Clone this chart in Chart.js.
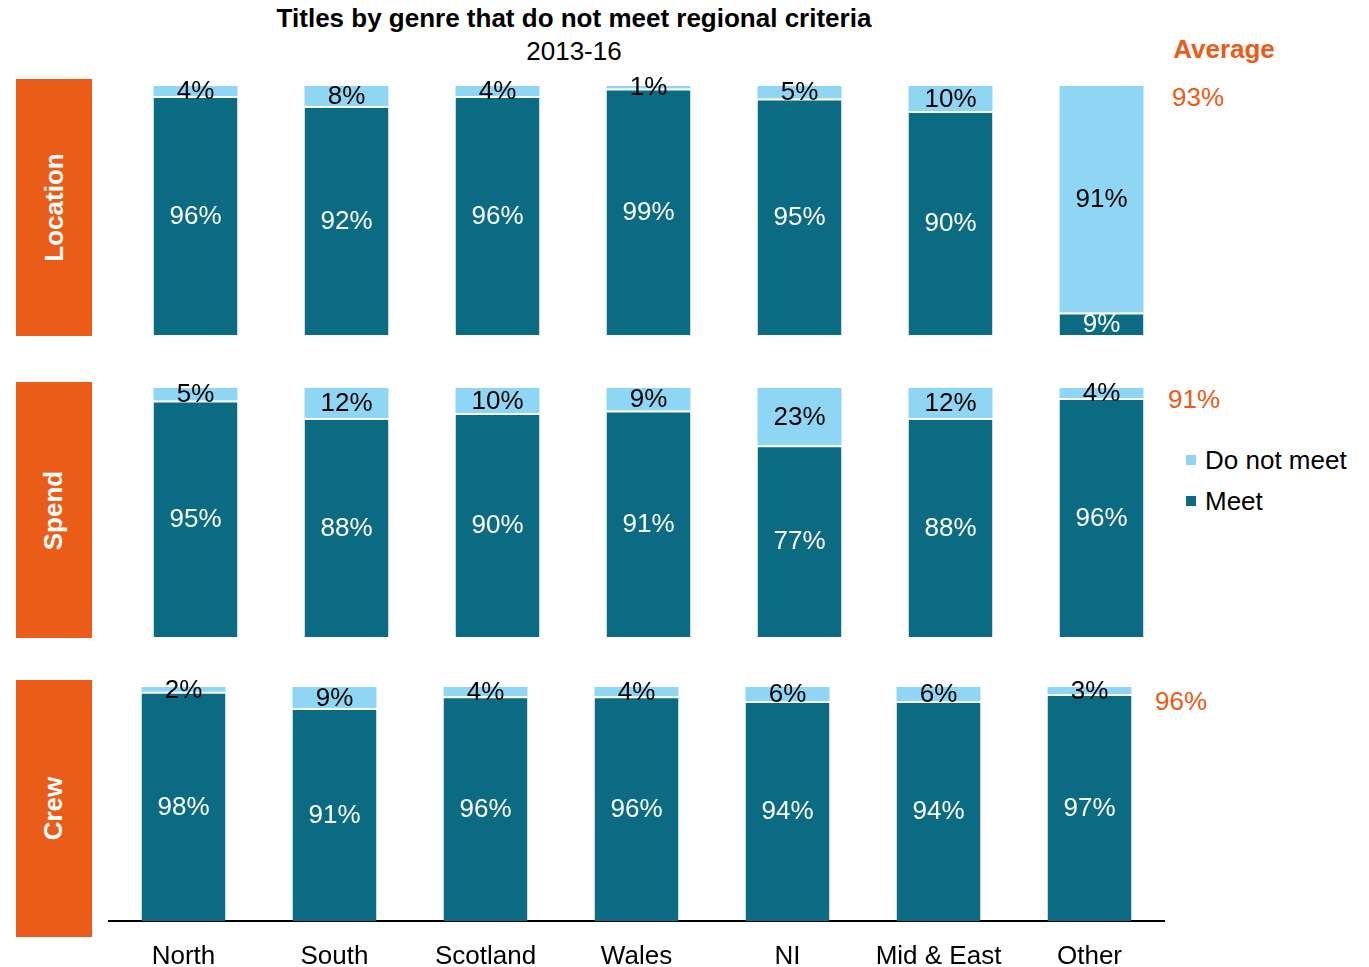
<!DOCTYPE html>
<html>
<head>
<meta charset="utf-8">
<title>Titles by genre that do not meet regional criteria</title>
<script src="https://cdn.jsdelivr.net/npm/chart.js@4"></script>
<style>
  body { margin: 0; background: #fff; font-family: "Liberation Sans", Arial, sans-serif; }
  #page { position: relative; width: 1369px; height: 967px; overflow: hidden; }
  .abs { position: absolute; }
  .title { left: 0; width: 1148px; text-align: center; color: #000; }
  .side { left: 16px; width: 76px; background: #ea5c17; display: flex; align-items: center; justify-content: center; }
  .side span { transform: rotate(-90deg); color: #fff; font-weight: bold; font-size: 26px; white-space: nowrap; }
  .avg { color: #ea5c17; font-size: 26px; transform: translate(-50%, -50%); white-space: nowrap; }
  .legend { font-size: 26px; color: #000; white-space: nowrap; }
  .legend i { display: inline-block; width: 10px; height: 10px; margin-right: 9px; vertical-align: middle; position: relative; top: -2px; }
</style>
</head>
<body>
<div id="page">
  <div class="abs title" style="top:3px;font-size:26px;font-weight:bold;">Titles by genre that do not meet regional criteria</div>
  <div class="abs title" style="top:36px;font-size:26px;">2013-16</div>

  <div class="abs side" style="top:79px;height:257px;"><span>Location</span></div>
  <div class="abs side" style="top:382px;height:256px;"><span>Spend</span></div>
  <div class="abs side" style="top:680px;height:257px;"><span>Crew</span></div>

  <div class="abs avg" style="left:1224px;top:49px;font-weight:bold;">Average</div>
  <div class="abs avg" id="avg0" style="left:1198px;top:97px;"></div>
  <div class="abs avg" id="avg1" style="left:1194px;top:399px;"></div>
  <div class="abs avg" id="avg2" style="left:1181px;top:701px;"></div>

  <div class="abs legend" style="left:1186px;top:445px;"><i style="background:#8ed6f4"></i>Do not meet</div>
  <div class="abs legend" style="left:1186px;top:486px;"><i style="background:#0b6b82"></i>Meet</div>

  <div class="abs" style="left:120px;top:66px;width:1057px;height:269px;"><canvas id="locationChart"></canvas></div>
  <div class="abs" style="left:120px;top:368px;width:1057px;height:269px;"><canvas id="spendChart"></canvas></div>
  <div class="abs" style="left:108px;top:667px;width:1057px;height:300px;"><canvas id="crewChart"></canvas></div>
</div>

<script>
const regions = ["North", "South", "Scotland", "Wales", "NI", "Mid & East", "Other"];

const locationMeet    = [96, 92, 96, 99, 95, 90, 9];
const locationNotMeet = [4, 8, 4, 1, 5, 10, 91];

const spendMeet    = [95, 88, 90, 91, 77, 88, 96];
const spendNotMeet = [5, 12, 10, 9, 23, 12, 4];

const crewMeet    = [98, 91, 96, 96, 94, 94, 97];
const crewNotMeet = [2, 9, 4, 4, 6, 6, 3];

const averages = ["93%", "91%", "96%"];

const meetColor = "#0b6b82";
const notMeetColor = "#8ed6f4";
const labelFont = '26px "Liberation Sans", Arial, sans-serif';

averages.forEach((a, i) => { document.getElementById("avg" + i).textContent = a; });

// writes the percentage in the middle of every segment
const segmentLabels = {
  id: "segmentLabels",
  afterDatasetsDraw(chart) {
    const ctx = chart.ctx;
    ctx.save();
    ctx.font = labelFont;
    ctx.textAlign = "center";
    ctx.textBaseline = "middle";
    chart.data.datasets.forEach((ds, i) => {
      ctx.fillStyle = ds.labelColor;
      chart.getDatasetMeta(i).data.forEach((bar, j) => {
        ctx.fillText(ds.data[j] + "%", bar.x, (bar.y + bar.base) / 2 + 1);
      });
    });
    ctx.restore();
  }
};

function makePanel(id, meet, notMeet, showAxis) {
  const xScale = {
    stacked: true,
    display: showAxis,
    grid: { display: false },
    border: { display: true, color: "#000000", width: 2 },
    ticks: {
      color: "#000000",
      padding: 12,
      font: { family: '"Liberation Sans", Arial, sans-serif', size: 26 }
    }
  };
  if (showAxis) {
    xScale.afterFit = (scale) => { scale.height = 46; };
  }

  return new Chart(document.getElementById(id), {
    type: "bar",
    data: {
      labels: regions,
      datasets: [
        {
          label: "Meet",
          data: meet,
          backgroundColor: meetColor,
          borderColor: "#ffffff",
          borderWidth: { top: 2, left: 0, right: 0, bottom: 0 },
          borderSkipped: false,
          labelColor: "#ffffff",
          stack: "s"
        },
        {
          label: "Do not meet",
          data: notMeet,
          backgroundColor: notMeetColor,
          borderWidth: 0,
          labelColor: "#000000",
          stack: "s"
        }
      ]
    },
    options: {
      responsive: true,
      maintainAspectRatio: false,
      animation: false,
      layout: { padding: { top: 20, left: 0, right: 0, bottom: 0 } },
      datasets: { bar: { categoryPercentage: 1, barPercentage: 0.556 } },
      plugins: {
        legend: { display: false },
        tooltip: { enabled: false }
      },
      scales: {
        x: xScale,
        y: { stacked: true, display: false, min: 0, max: 100 }
      }
    },
    plugins: [segmentLabels]
  });
}

makePanel("locationChart", locationMeet, locationNotMeet, false);
makePanel("spendChart", spendMeet, spendNotMeet, false);
makePanel("crewChart", crewMeet, crewNotMeet, true);
</script>
</body>
</html>
